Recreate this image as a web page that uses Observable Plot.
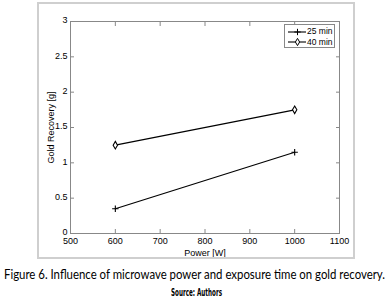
<!DOCTYPE html>
<html><head><meta charset="utf-8">
<script src="https://cdn.jsdelivr.net/npm/d3@7"></script>
<script src="https://cdn.jsdelivr.net/npm/@observablehq/plot@0.6"></script>
<style>
body{margin:0;background:#fff;width:389px;height:301px;overflow:hidden;position:relative;font-family:"Liberation Sans",Arial,sans-serif}
#chart{position:absolute;left:0;top:0}
#border{position:absolute;left:37px;top:2px;width:318px;height:257px;box-sizing:border-box;border:2px solid #cfcfcf;pointer-events:none}
#legend{position:absolute;left:284px;top:24px;width:51px;height:24px;box-sizing:border-box;border:1px solid #888;background:#fff;font-size:8.5px;color:#000}
#legend .row{position:absolute;left:0;height:11px;display:flex;align-items:center}
.fit{position:absolute;white-space:nowrap;color:#000;transform-origin:0 0}
#caption{top:265px;font-family:Lato,sans-serif;font-size:14px}
#source{top:287px;font-family:"DejaVu Sans Condensed","DejaVu Sans",sans-serif;font-weight:bold;font-size:10px}
</style></head>
<body>
<div id="chart"></div>
<div id="border"></div>
<div id="legend"></div>
<div id="caption" class="fit"></div>
<div id="source" class="fit"></div>
<script>
const power = [600, 1000];
const series = ["25 min", "40 min"];
const recovery25 = [0.35, 1.15];
const recovery40 = [1.25, 1.75];
const xTicks = [500, 600, 700, 800, 900, 1000, 1100];
const yTicks = [0, 0.5, 1, 1.5, 2, 2.5, 3];
const xLabel = "Power [W]";
const yLabel = "Gold Recovery [g]";
const captionText = "Figure 6. Influence of microwave power and exposure time on gold recovery.";
const sourceText = "Source: Authors";

const rows = [];
power.forEach((p, i) => {
  rows.push({power: p, value: recovery25[i], series: series[0]});
  rows.push({power: p, value: recovery40[i], series: series[1]});
});
const s25 = rows.filter(d => d.series === series[0]);
const s40 = rows.filter(d => d.series === series[1]);

const fmt = d => String(d);
const none = () => "";
const chart = Plot.plot({
  width: 389,
  height: 262,
  marginLeft: 70,
  marginRight: 50,
  marginTop: 21,
  marginBottom: 29,
  style: {fontFamily: "Liberation Sans, Arial, sans-serif", fontSize: "8.5px", color: "#000", background: "transparent"},
  x: {domain: [500, 1100]},
  y: {domain: [0, 3]},
  marks: [
    Plot.frame({stroke: "#888"}),
    Plot.axisX({ticks: xTicks, tickSize: -4, tickPadding: 8, stroke: "#888", tickFormat: fmt, label: xLabel, labelAnchor: "center", labelArrow: "none", labelOffset: 22, fontSize: 9}),
    Plot.axisX({anchor: "top", ticks: xTicks, tickSize: -4, stroke: "#888", tickFormat: none, label: null}),
    Plot.axisY({ticks: yTicks, tickSize: -4, stroke: "#888", tickFormat: none, label: yLabel, labelAnchor: "center", labelArrow: "none", labelOffset: 23, fontSize: 9}),
    Plot.axisY({ticks: yTicks, tickSize: 0, tickPadding: 3, dy: -1, tickFormat: fmt, label: null, fontSize: 9}),
    Plot.axisY({anchor: "right", ticks: yTicks, tickSize: -4, stroke: "#888", tickFormat: none, label: null}),
    Plot.line(s25, {x: "power", y: "value", stroke: "#000", strokeWidth: 1.2}),
    Plot.line(s40, {x: "power", y: "value", stroke: "#000", strokeWidth: 1.2}),
    Plot.dot(s25, {x: "power", y: "value", symbol: "plus", r: 2.2, stroke: "#000", strokeWidth: 1.1}),
    Plot.dot(s40, {x: "power", y: "value", symbol: "diamond", r: 2.3, stroke: "#000", fill: "#fff", strokeWidth: 1.1})
  ]
});
document.getElementById("chart").append(chart);

const legend = document.getElementById("legend");
const syms = ["plus", "diamond"];
series.forEach((name, i) => {
  const row = document.createElement("div");
  row.className = "row";
  row.style.top = (0.5 + i * 10.5) + "px";
  const icon = Plot.plot({
    width: 18, height: 11, margin: 0,
    x: {domain: [0, 1], axis: null}, y: {domain: [0, 1], axis: null},
    style: {background: "transparent"},
    marks: [
      Plot.ruleY([0.5], {x1: 0, x2: 1, stroke: "#000", strokeWidth: 1.1}),
      Plot.dot([{x: 0.5, y: 0.5}], {x: "x", y: "y", symbol: syms[i], r: 2.2, stroke: "#000", fill: "#fff", strokeWidth: 1})
    ]
  });
  icon.style.marginLeft = "3px";
  row.append(icon);
  const t = document.createElement("span");
  t.textContent = name;
  t.style.marginLeft = "1px";
  row.append(t);
  legend.append(row);
});

function fit(id, text, left, width) {
  const el = document.getElementById(id);
  el.textContent = text;
  el.style.left = left + "px";
  const w = el.getBoundingClientRect().width;
  el.style.transform = `scaleX(${width / w})`;
}
fit("caption", captionText, 4, 381);
fit("source", sourceText, 171, 51);
</script>
</body></html>
